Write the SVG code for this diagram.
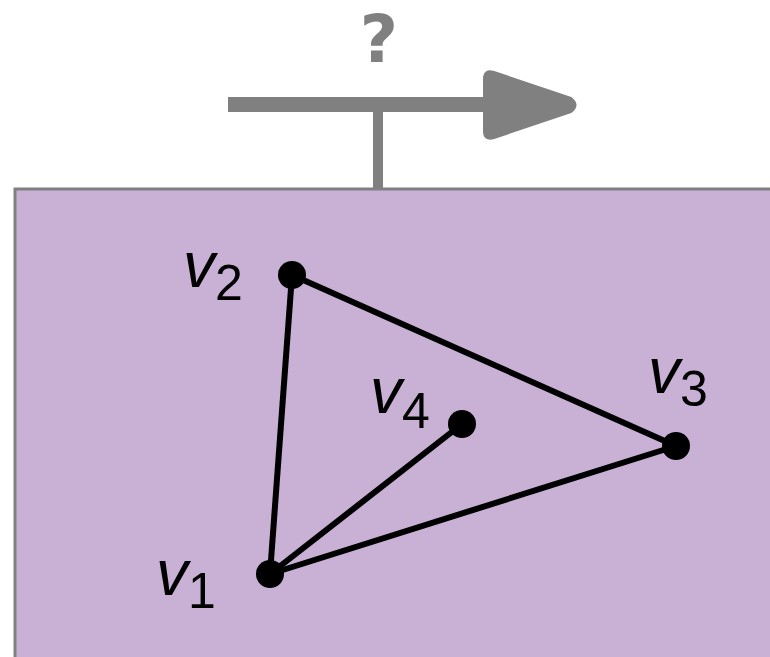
<svg xmlns="http://www.w3.org/2000/svg" width="770" height="657" viewBox="0 0 770 657">
<style>
.lbl{font-family:"Liberation Sans",Arial,sans-serif;fill:#000}
.v{font-style:italic;font-size:64px}
.s{font-size:50px}
.edge{stroke:#000;stroke-width:6;fill:none}
.dot{fill:#000}
</style>
<rect id="region" x="15" y="189" width="770" height="480" fill="#C9B0D5" stroke="#808080" stroke-width="3"/>
<g id="arrow" fill="#808080" stroke="none">
<rect x="228" y="97" width="260" height="15"/>
<rect x="373" y="104" width="10" height="86"/>
<path d="M484,79 Q484,69 494,72 L571,98 Q580,105 571,112 L494,138 Q484,141 484,131 Z" stroke="#808080" stroke-width="2" stroke-linejoin="round"/>
<text x="379" y="62" text-anchor="middle" font-family="DejaVu Sans,sans-serif" font-size="66" font-weight="bold" fill="#808080">?</text>
</g>
<g id="edges">
<line class="edge" x1="270" y1="574" x2="292" y2="275"/>
<line class="edge" x1="292" y1="275" x2="676" y2="446"/>
<line class="edge" x1="270" y1="574" x2="676" y2="446"/>
<line class="edge" x1="270" y1="574" x2="462" y2="424"/>
</g>
<g id="v1"><circle class="dot" cx="270" cy="574" r="14"/><text class="lbl" x="156" y="595"><tspan class="v">v</tspan><tspan class="s" dy="13">1</tspan></text></g>
<g id="v2"><circle class="dot" cx="292" cy="275" r="14"/><text class="lbl" x="183" y="287"><tspan class="v">v</tspan><tspan class="s" dy="13">2</tspan></text></g>
<g id="v3"><circle class="dot" cx="676" cy="446" r="14"/><text class="lbl" x="648" y="393"><tspan class="v">v</tspan><tspan class="s" dy="13">3</tspan></text></g>
<g id="v4"><circle class="dot" cx="462" cy="424" r="14"/><text class="lbl" x="370" y="413"><tspan class="v">v</tspan><tspan class="s" dy="15">4</tspan></text></g>
</svg>
